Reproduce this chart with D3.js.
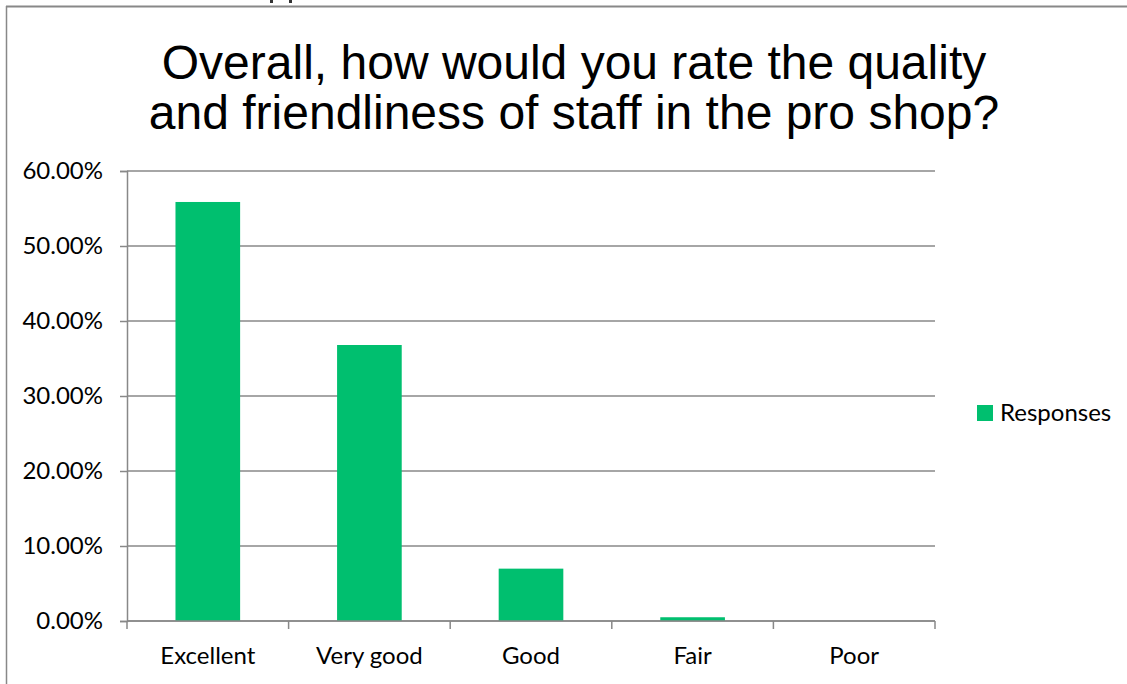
<!DOCTYPE html>
<html><head><meta charset="utf-8">
<script src="https://cdn.jsdelivr.net/npm/d3@7"></script>
<style>body{margin:0;background:#fff}svg{display:block}</style>
</head><body>
<svg id="c" width="1127" height="684"></svg>
<script>
const categories = ["Excellent","Very good","Good","Fair","Poor"];
const values = [55.87, 36.8, 6.98, 0.5, 0];
const yTicks = [0,10,20,30,40,50,60];
const titleLines = ["Overall, how would you rate the quality","and friendliness of staff in the pro shop?"];
const seriesName = "Responses";

const svg = d3.select("#c");
const grey = "#888888", green = "#00bf6f";
const lblFont = "Lato, 'Open Sans', sans-serif";

// fragments of glyph descenders from text cropped above the frame
svg.append("g").selectAll("rect").data([270, 289]).join("rect")
  .attr("x",d=>d).attr("y",0).attr("width",3).attr("height",3).attr("fill","#333");

// outer frame (cropped)
svg.append("line").attr("x1",6).attr("x2",1127).attr("y1",6.5).attr("y2",6.5).attr("stroke",grey).attr("stroke-width",2);
svg.append("line").attr("x1",6.5).attr("x2",6.5).attr("y1",6).attr("y2",684).attr("stroke",grey).attr("stroke-width",1.5);

// title
svg.append("g").selectAll("text").data(titleLines).join("text")
  .attr("x",574).attr("y",(d,i)=>79+i*50)
  .attr("text-anchor","middle")
  .attr("font-family","'Liberation Sans', Arial, sans-serif")
  .attr("font-size",48).attr("fill","#000").text(d=>d);

const x = d3.scaleBand().domain(categories).range([127,935]).paddingInner(0.6).paddingOuter(0.3);
const y = d3.scaleLinear().domain([0,60]).range([621,171]);

// gridlines
svg.append("g").selectAll("line").data(yTicks).join("line")
  .attr("x1",127).attr("x2",935).attr("y1",d=>y(d)).attr("y2",d=>y(d))
  .attr("stroke",grey).attr("stroke-width",1.5);

// bars
svg.append("g").selectAll("rect").data(values).join("rect")
  .attr("x",(d,i)=>x(categories[i])).attr("width",x.bandwidth())
  .attr("y",d=>y(d)).attr("height",d=>y(0)-y(d)).attr("fill",green);

// y axis
const yAx = svg.append("g").attr("transform","translate(127,0)")
  .call(d3.axisLeft(y).tickValues(yTicks).tickFormat(d=>d.toFixed(2)+"%").tickSizeOuter(0).tickSize(7).tickPadding(17));
yAx.select(".domain").attr("stroke",grey).attr("stroke-width",1.5);
yAx.selectAll(".tick line").attr("stroke",grey).attr("stroke-width",1.5);
yAx.selectAll("text").attr("font-family",lblFont).attr("font-size",24).attr("fill","#000");

// x axis
const xEdges = d3.range(categories.length+1).map(i=>127+i*(935-127)/categories.length);
svg.append("line").attr("x1",127).attr("x2",935).attr("y1",621).attr("y2",621).attr("stroke",grey).attr("stroke-width",1.5);
svg.append("g").selectAll("line").data(xEdges).join("line")
  .attr("x1",d=>d).attr("x2",d=>d).attr("y1",621).attr("y2",629).attr("stroke",grey).attr("stroke-width",1.5);
svg.append("g").selectAll("text").data(categories).join("text")
  .attr("x",d=>x(d)+x.bandwidth()/2).attr("y",664).attr("text-anchor","middle")
  .attr("font-family",lblFont).attr("font-size",24).attr("fill","#000").text(d=>d);

// legend
svg.append("rect").attr("x",977).attr("y",405).attr("width",16).attr("height",16).attr("fill",green);
svg.append("text").attr("x",1000).attr("y",421).attr("font-family",lblFont).attr("font-size",24).attr("fill","#000").text(seriesName);
</script>
</body></html>
